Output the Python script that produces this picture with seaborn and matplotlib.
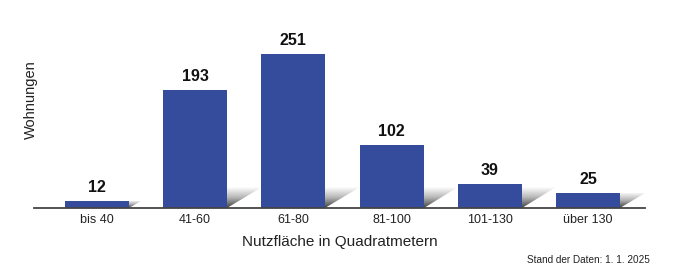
import numpy as np
import pandas as pd
import matplotlib
matplotlib.use("Agg")
import matplotlib.pyplot as plt
import seaborn as sns
from matplotlib.patches import Polygon

categories = ["bis 40", "41-60", "61-80", "81-100", "101-130", "über 130"]
values = [12, 193, 251, 102, 39, 25]

sns.set_theme(style="white")
plt.rcParams["font.family"] = ["Liberation Sans", "DejaVu Sans"]

W, H = 682, 269
fig = plt.figure(figsize=(W / 100, H / 100), dpi=100)
ax_left, ax_right = 34, 645
ax_bottom_px, ax_top_px = 208, 20
ax = fig.add_axes([ax_left / W, (H - ax_bottom_px) / H,
                   (ax_right - ax_left) / W, (ax_bottom_px - ax_top_px) / H])

df = pd.DataFrame({"cat": categories, "val": values})
bar_color = "#344c9b"
sns.barplot(data=df, x="cat", y="val", color=bar_color, width=0.65,
            saturation=1, ax=ax, zorder=3, linewidth=0)

px_per_unit = 154 / 251
ymax = (ax_bottom_px - ax_top_px) / px_per_unit
ax.set_ylim(0, ymax)
ax.set_xlim(-0.641, 5.58)
px_per_cat = 98.2

# gradient shadows
grad = np.linspace(0, 1, 256).reshape(-1, 1)
cmap = matplotlib.colors.LinearSegmentedColormap.from_list(
    "sh", ["#404040", "#b5b5b5", "#ffffff"])
for i, p in enumerate(ax.patches):
    x_r = p.get_x() + p.get_width()
    h_bar_px = p.get_height() * px_per_unit
    h_px = min(h_bar_px, 21)
    w_px = 1.65 * h_px
    h = h_px / px_per_unit
    w = w_px / px_per_cat
    poly = Polygon([(x_r, 0), (x_r, h), (x_r + w, h)], closed=True,
                   facecolor="none", edgecolor="none")
    ax.add_patch(poly)
    im = ax.imshow(grad, extent=(x_r, x_r + w, 0, h), origin="lower",
                   cmap=cmap, aspect="auto", zorder=2, interpolation="bilinear")
    im.set_clip_path(poly)
    ax.text(p.get_x() + p.get_width() / 2, p.get_height() + 6 / px_per_unit,
            f"{values[i]}", ha="center", va="bottom", fontsize=11.5,
            fontweight="bold", color="#111111")

ax.set_aspect("auto")
for s in ["top", "right", "left"]:
    ax.spines[s].set_visible(False)
ax.spines["bottom"].set_color("#444444")
ax.spines["bottom"].set_linewidth(1.3)
ax.spines["bottom"].set_zorder(5)
ax.set_yticks([])
ax.tick_params(axis="x", length=0, pad=4, labelsize=9, labelcolor="#222222")
ax.set_xlabel("Nutzfläche in Quadratmetern", fontsize=11, color="#222222", labelpad=7)
ax.set_ylabel("")
fig.text(31 / W, 1 - 100 / H, "Wohnungen", rotation=90, ha="center",
         va="center", fontsize=10.5, color="#222222")

fig.text(650 / W, 1 - 260 / H, "Stand der Daten: 1. 1. 2025", ha="right",
         va="center", fontsize=7.2, color="#222222")

fig.savefig("out.png", dpi=100, facecolor="white")
